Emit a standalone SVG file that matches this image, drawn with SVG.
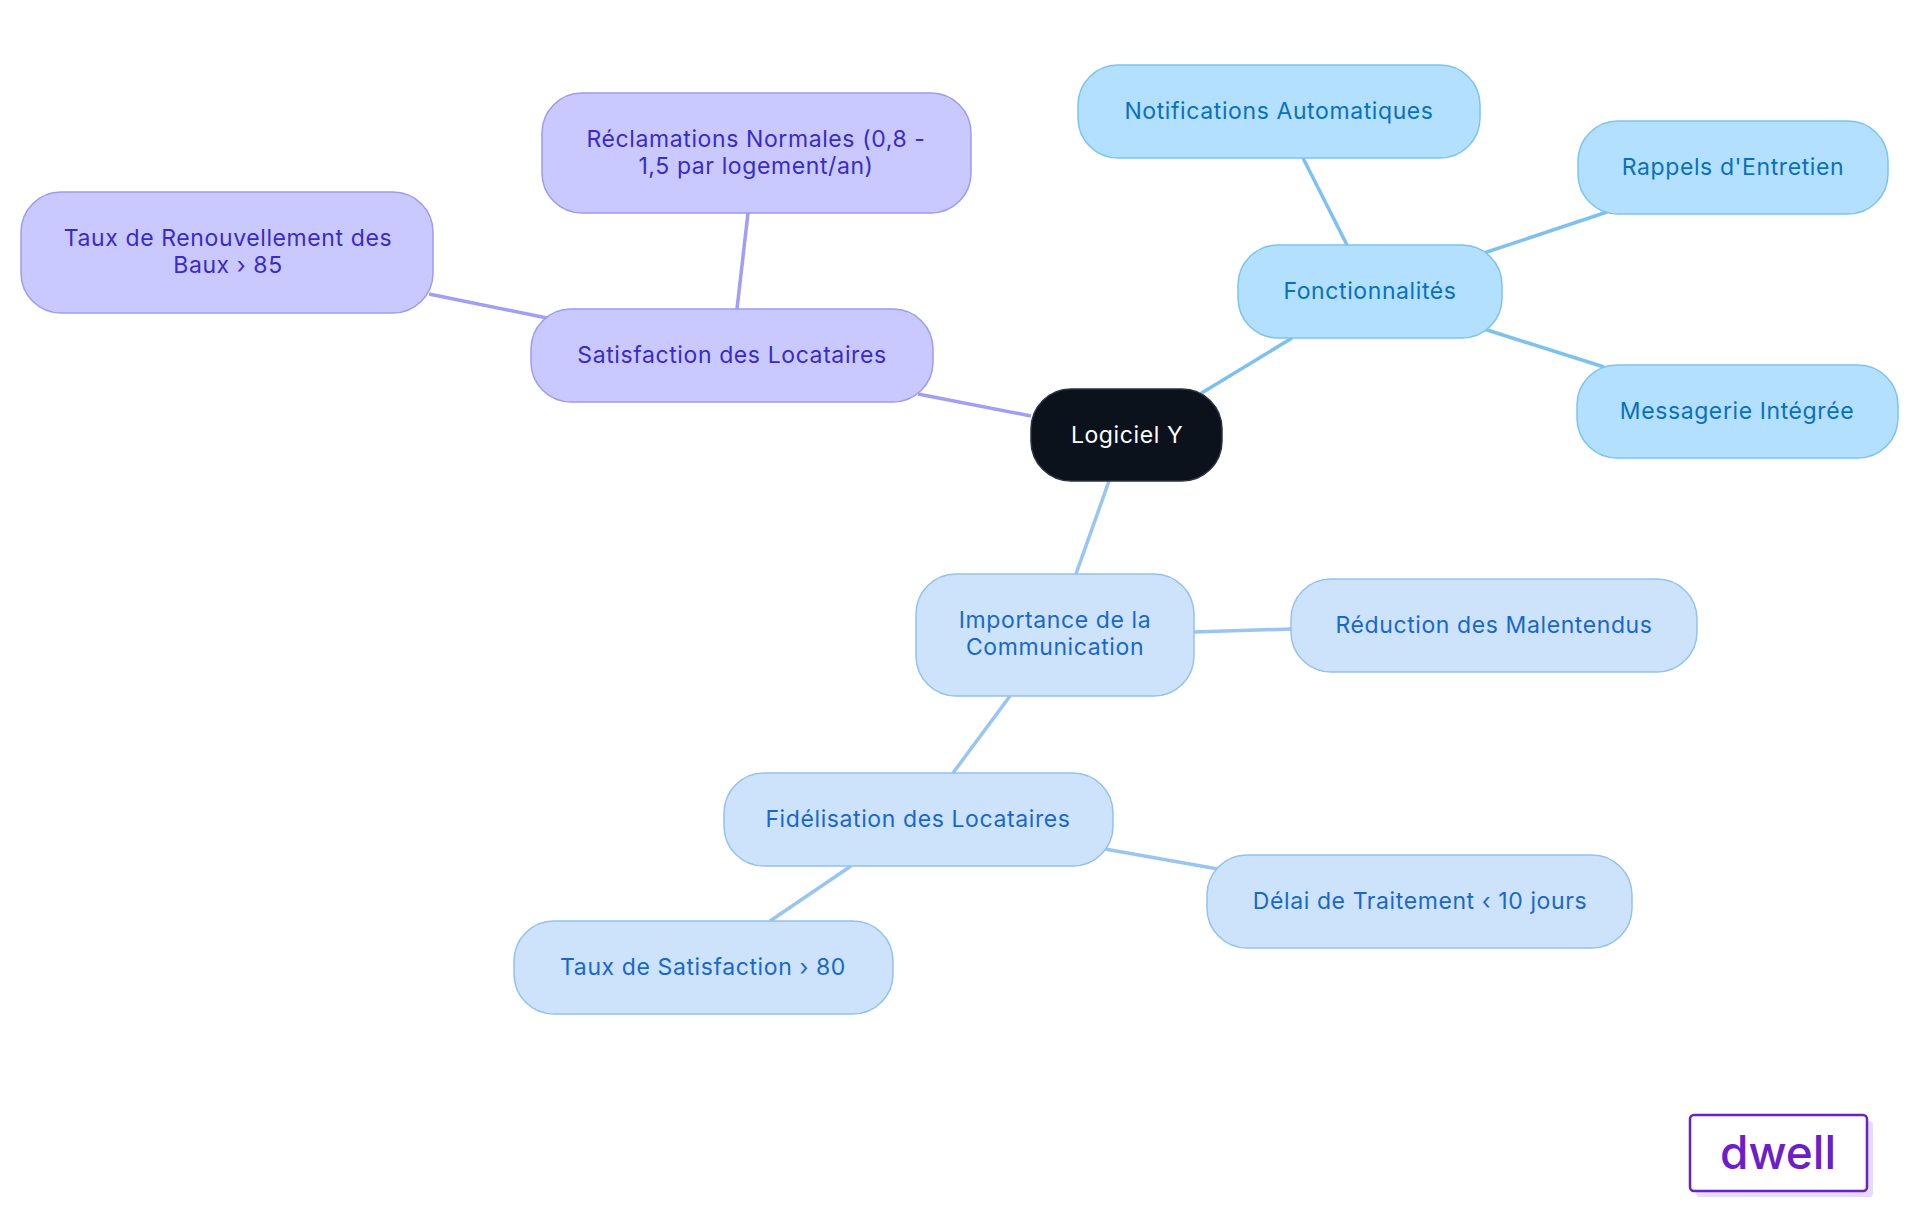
<svg xmlns="http://www.w3.org/2000/svg" width="1920" height="1215" viewBox="0 0 1920 1215">
<style>
text{font-family:Inter,"Open Sans","Liberation Sans",sans-serif;font-size:23px;letter-spacing:0.6px;text-anchor:middle;dominant-baseline:central}
.p rect{fill:#c9c9ff;stroke:#9d9bf2;stroke-width:1.5}.p text{fill:#3a2bc8}
.b rect{fill:#b3e0ff;stroke:#7cc3f0;stroke-width:1.5}.b text{fill:#0a70be}
.l rect{fill:#cde3fb;stroke:#93c1f0;stroke-width:1.5}.l text{fill:#1a67cc}
#edges line{stroke-width:3.5}
.ep{stroke:#a09ef5}.eb{stroke:#7ec0ee}.el{stroke:#99c5f0}
</style>
<rect width="1920" height="1215" fill="#fff"/>
<g id="edges">
<line class="ep" x1="1031" y1="416" x2="918" y2="394"/>
<line class="ep" x1="737" y1="309" x2="748" y2="213"/>
<line class="ep" x1="547" y1="318" x2="429" y2="294"/>
<line class="eb" x1="1200" y1="394" x2="1292" y2="338"/>
<line class="eb" x1="1347" y1="245" x2="1303" y2="158"/>
<line class="eb" x1="1484" y1="253" x2="1607" y2="212"/>
<line class="eb" x1="1484" y1="329" x2="1604" y2="367"/>
<line class="el" x1="1109" y1="481" x2="1076" y2="574"/>
<line class="el" x1="1194" y1="632" x2="1291" y2="629"/>
<line class="el" x1="1010" y1="696" x2="953" y2="773"/>
<line class="el" x1="1105" y1="849" x2="1218" y2="869"/>
<line class="el" x1="851" y1="866" x2="770" y2="921"/>
</g>
<g id="root"><rect x="1031" y="389" width="191" height="92" rx="40" fill="#0b121c" stroke="#2a3340" stroke-width="1.5"/><text x="1127" y="435" fill="#fff">Logiciel Y</text></g>
<g id="satisfaction" class="p"><rect x="531" y="309" width="402" height="93" rx="40"/><text x="732" y="355">Satisfaction des Locataires</text></g>
<g id="reclamations" class="p"><rect x="542" y="93" width="429" height="120" rx="40"/><text x="756" y="139">Réclamations Normales (0,8 -</text><text x="756" y="166">1,5 par logement/an)</text></g>
<g id="renouvellement" class="p"><rect x="21" y="192" width="412" height="121" rx="40"/><text x="228" y="238">Taux de Renouvellement des</text><text x="228" y="265">Baux › 85</text></g>
<g id="fonctionnalites" class="b"><rect x="1238" y="245" width="264" height="93" rx="40"/><text x="1370" y="291">Fonctionnalités</text></g>
<g id="notifications" class="b"><rect x="1078" y="65" width="402" height="93" rx="40"/><text x="1279" y="111">Notifications Automatiques</text></g>
<g id="rappels" class="b"><rect x="1578" y="121" width="310" height="93" rx="40"/><text x="1733" y="167">Rappels d'Entretien</text></g>
<g id="messagerie" class="b"><rect x="1577" y="365" width="321" height="93" rx="40"/><text x="1737" y="411">Messagerie Intégrée</text></g>
<g id="importance" class="l"><rect x="916" y="574" width="278" height="122" rx="40"/><text x="1055" y="620">Importance de la</text><text x="1055" y="647">Communication</text></g>
<g id="reduction" class="l"><rect x="1291" y="579" width="406" height="93" rx="40"/><text x="1494" y="625">Réduction des Malentendus</text></g>
<g id="fidelisation" class="l"><rect x="724" y="773" width="389" height="93" rx="40"/><text x="918" y="819">Fidélisation des Locataires</text></g>
<g id="delai" class="l"><rect x="1207" y="855" width="425" height="93" rx="40"/><text x="1420" y="901">Délai de Traitement ‹ 10 jours</text></g>
<g id="tauxsat" class="l"><rect x="514" y="921" width="379" height="93" rx="40"/><text x="703" y="967">Taux de Satisfaction › 80</text></g>
<g id="logo"><rect x="1696" y="1121" width="177" height="76" rx="4" fill="#e6dcf7"/><rect x="1690" y="1115" width="177" height="76" rx="4" fill="#fff" stroke="#6a1fc8" stroke-width="2.5"/><text x="1778" y="1152" style="font-size:46px;font-weight:500;letter-spacing:0;fill:#6a1fc8">dwell</text></g>
</svg>
